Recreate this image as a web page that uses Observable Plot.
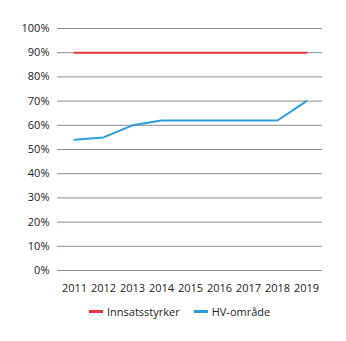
<!DOCTYPE html>
<html>
<head>
<meta charset="utf-8">
<script src="https://cdn.jsdelivr.net/npm/d3@7"></script>
<script src="https://cdn.jsdelivr.net/npm/@observablehq/plot@0.6"></script>
<style>
  html, body { margin: 0; padding: 0; background: #fff; }
  body { width: 346px; height: 341px; overflow: hidden; font-family: "Open Sans", sans-serif; }
  #legend { display: flex; gap: 14px; margin-left: 89px; margin-top: 4px; font-size: 11px; color: #222; align-items: center; }
  .item { display: flex; align-items: center; gap: 4px; }
  .sw { width: 14px; height: 2.5px; display: inline-block; }
</style>
</head>
<body>
<div id="chart"></div>
<div id="legend"></div>
<script>
const years = ["2011","2012","2013","2014","2015","2016","2017","2018","2019"];
const innsatsstyrker = [90, 90, 90, 90, 90, 90, 90, 90, 90];
const hvOmrade = [54, 55, 60, 62, 62, 62, 62, 62, 70];
const seriesNames = ["Innsatsstyrker", "HV-område"];
const seriesColors = ["#e8373e", "#2b9fdc"];
const yTicks = [0, 10, 20, 30, 40, 50, 60, 70, 80, 90, 100];

const data = [];
years.forEach((y, i) => {
  data.push({year: y, value: innsatsstyrker[i], series: seriesNames[0]});
  data.push({year: y, value: hvOmrade[i], series: seriesNames[1]});
});

const plot = Plot.plot({
  width: 346,
  height: 300,
  marginLeft: 57,
  marginRight: 24,
  marginTop: 28,
  marginBottom: 30,
  style: {fontFamily: "Open Sans, sans-serif", fontSize: "11px", color: "#222", background: "#fff"},
  x: {type: "point", domain: years, padding: 0.5, label: null, tickSize: 0, tickPadding: 14},
  y: {domain: [0, 100], ticks: yTicks, tickFormat: d => d + "%", label: null, tickSize: 0, tickPadding: 8},
  color: {domain: seriesNames, range: seriesColors},
  marks: [
    Plot.ruleY(yTicks, {stroke: "#8c8c8c", strokeWidth: 1}),
    Plot.line(data, {x: "year", y: "value", stroke: "series", z: "series", strokeWidth: 2})
  ]
});
document.getElementById("chart").appendChild(plot);

const legend = document.getElementById("legend");
seriesNames.forEach((n, i) => {
  const it = document.createElement("div");
  it.className = "item";
  const sw = document.createElement("span");
  sw.className = "sw";
  sw.style.background = seriesColors[i];
  const t = document.createElement("span");
  t.textContent = n;
  it.appendChild(sw);
  it.appendChild(t);
  legend.appendChild(it);
});
</script>
</body>
</html>
